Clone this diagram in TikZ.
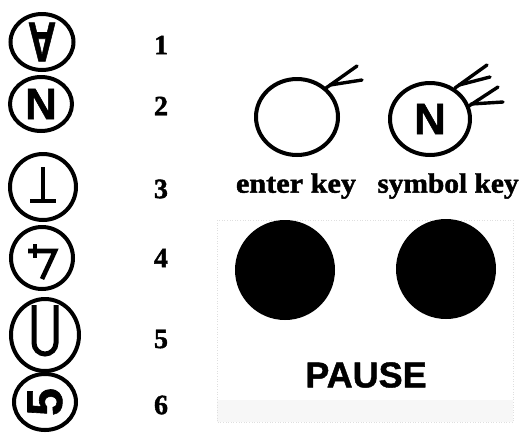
\documentclass[tikz,border=0pt]{standalone}
\usepackage{fontspec}
\setmainfont{Liberation Serif}[BoldFeatures={FakeBold=1.5}]
\newfontfamily\sansbold{Liberation Sans}[BoldFont={Liberation Sans Bold},BoldFeatures={FakeBold=1.2}]
\usetikzlibrary{shapes.geometric}
\begin{document}
\begin{tikzpicture}[x=1pt,y=-1pt,
  ring/.style={draw,ellipse,line width=4pt,inner sep=0pt},
  glyph/.style={line width=4.6pt},
  tail/.style={line width=3.4pt,line cap=round},
  num/.style={font=\fontsize{28}{30}\selectfont\bfseries,inner sep=0pt},
  keylabel/.style={font=\fontsize{28}{30}\selectfont\bfseries,inner sep=0pt},
  dot/.style={circle,fill=black,minimum size=100pt,inner sep=0pt}]
\useasboundingbox (0,0) rectangle (522,440);
% faint background panel
\fill[gray!6] (217,400) rectangle (513,422);
\draw[gray!25,dotted,line width=0.6pt] (217,220) rectangle (513,422);
% left column of symbols
\node[ring,minimum width=63pt,minimum height=56pt] (c1) at (42,42)
  {\sansbold\bfseries\fontsize{56}{56}\selectfont\scalebox{0.7}[1]{\rotatebox{180}{A}}};
\node[ring,minimum width=62pt,minimum height=54pt] (c2) at (41,104)
  {\sansbold\bfseries\fontsize{44}{44}\selectfont N};
\node[ring,minimum width=66pt,minimum height=66pt] (c3) at (43,187) {};
\node[ring,minimum width=62pt,minimum height=62pt] (c4) at (42,258) {};
\node[ring,minimum width=68pt,minimum height=72pt] (c5) at (45,335) {};
\node[ring,minimum width=62pt,minimum height=56pt] (c6) at (45,402)
  {\sansbold\bfseries\fontsize{50}{50}\selectfont\rotatebox{90}{5}};
% glyph 3: inverted T
\draw[glyph] ([shift={(0,-20)}]c3.center) -- ([shift={(0,13)}]c3.center);
\draw[glyph] ([shift={(-13,14)}]c3.center) -- ([shift={(13,14)}]c3.center);
% glyph 4: turned four
\draw[glyph] ([shift={(-7,-14)}]c4.center) -- ([shift={(-7,0)}]c4.center);
\draw[glyph] ([shift={(-14,-7)}]c4.center) -- ([shift={(13,-7)}]c4.center)
  .. controls ([shift={(8,4)}]c4.center) .. ([shift={(0,21)}]c4.center);
% glyph 5: U
\draw[glyph,line width=5pt] ([shift={(-11,-30)}]c5.center) -- ([shift={(-11,8)}]c5.center)
  arc[start angle=180,end angle=0,radius=11] -- ([shift={(11,-30)}]c5.center);
% numbers
\node[num] (n1) at (161,45) {1};
\node[num] (n2) at (161,106) {2};
\node[num] (n3) at (161,189) {3};
\node[num] (n4) at (161,258) {4};
\node[num] (n5) at (161,339) {5};
\node[num] (n6) at (161,405) {6};
% enter key and symbol key
\node[ring,minimum width=82pt,minimum height=76pt] (ek) at (297,117) {};
\node[ring,minimum width=80pt,minimum height=72pt] (sk) at (430,119)
  {\sansbold\bfseries\fontsize{44}{44}\selectfont N};
\coordinate (ea) at (326,88);
\coordinate (ea1) at (357,66);
\coordinate (ea2) at (362,80);
\draw[tail] (ea) -- (ea1);
\draw[tail] (ea) ++(4,-3) -- (ea2);
\coordinate (sa) at (455,88);
\coordinate (sa1) at (487,65);
\coordinate (sa2) at (490,77);
\coordinate (sb) at (469,106);
\coordinate (sb1) at (498,87);
\coordinate (sb2) at (503,102);
\draw[tail] (sa) -- (sa1);
\draw[tail] (sa) ++(4,-3) -- (sa2);
\draw[tail] (sb) -- (sb1);
\draw[tail] (sb) ++(2,-2) -- (sb2);
\node[keylabel] (el) at (296,186) {\scalebox{1.08}[1]{enter key}};
\node[keylabel] (sl) at (448,186) {\scalebox{1.05}[1]{symbol key}};
% pause buttons
\node[dot] (p1) at (285,270) {};
\node[dot] (p2) at (446,269) {};
\node[inner sep=0pt] (pause) at (366,375) {\sansbold\bfseries\fontsize{36}{36}\selectfont PAUSE};
\end{tikzpicture}
\end{document}
